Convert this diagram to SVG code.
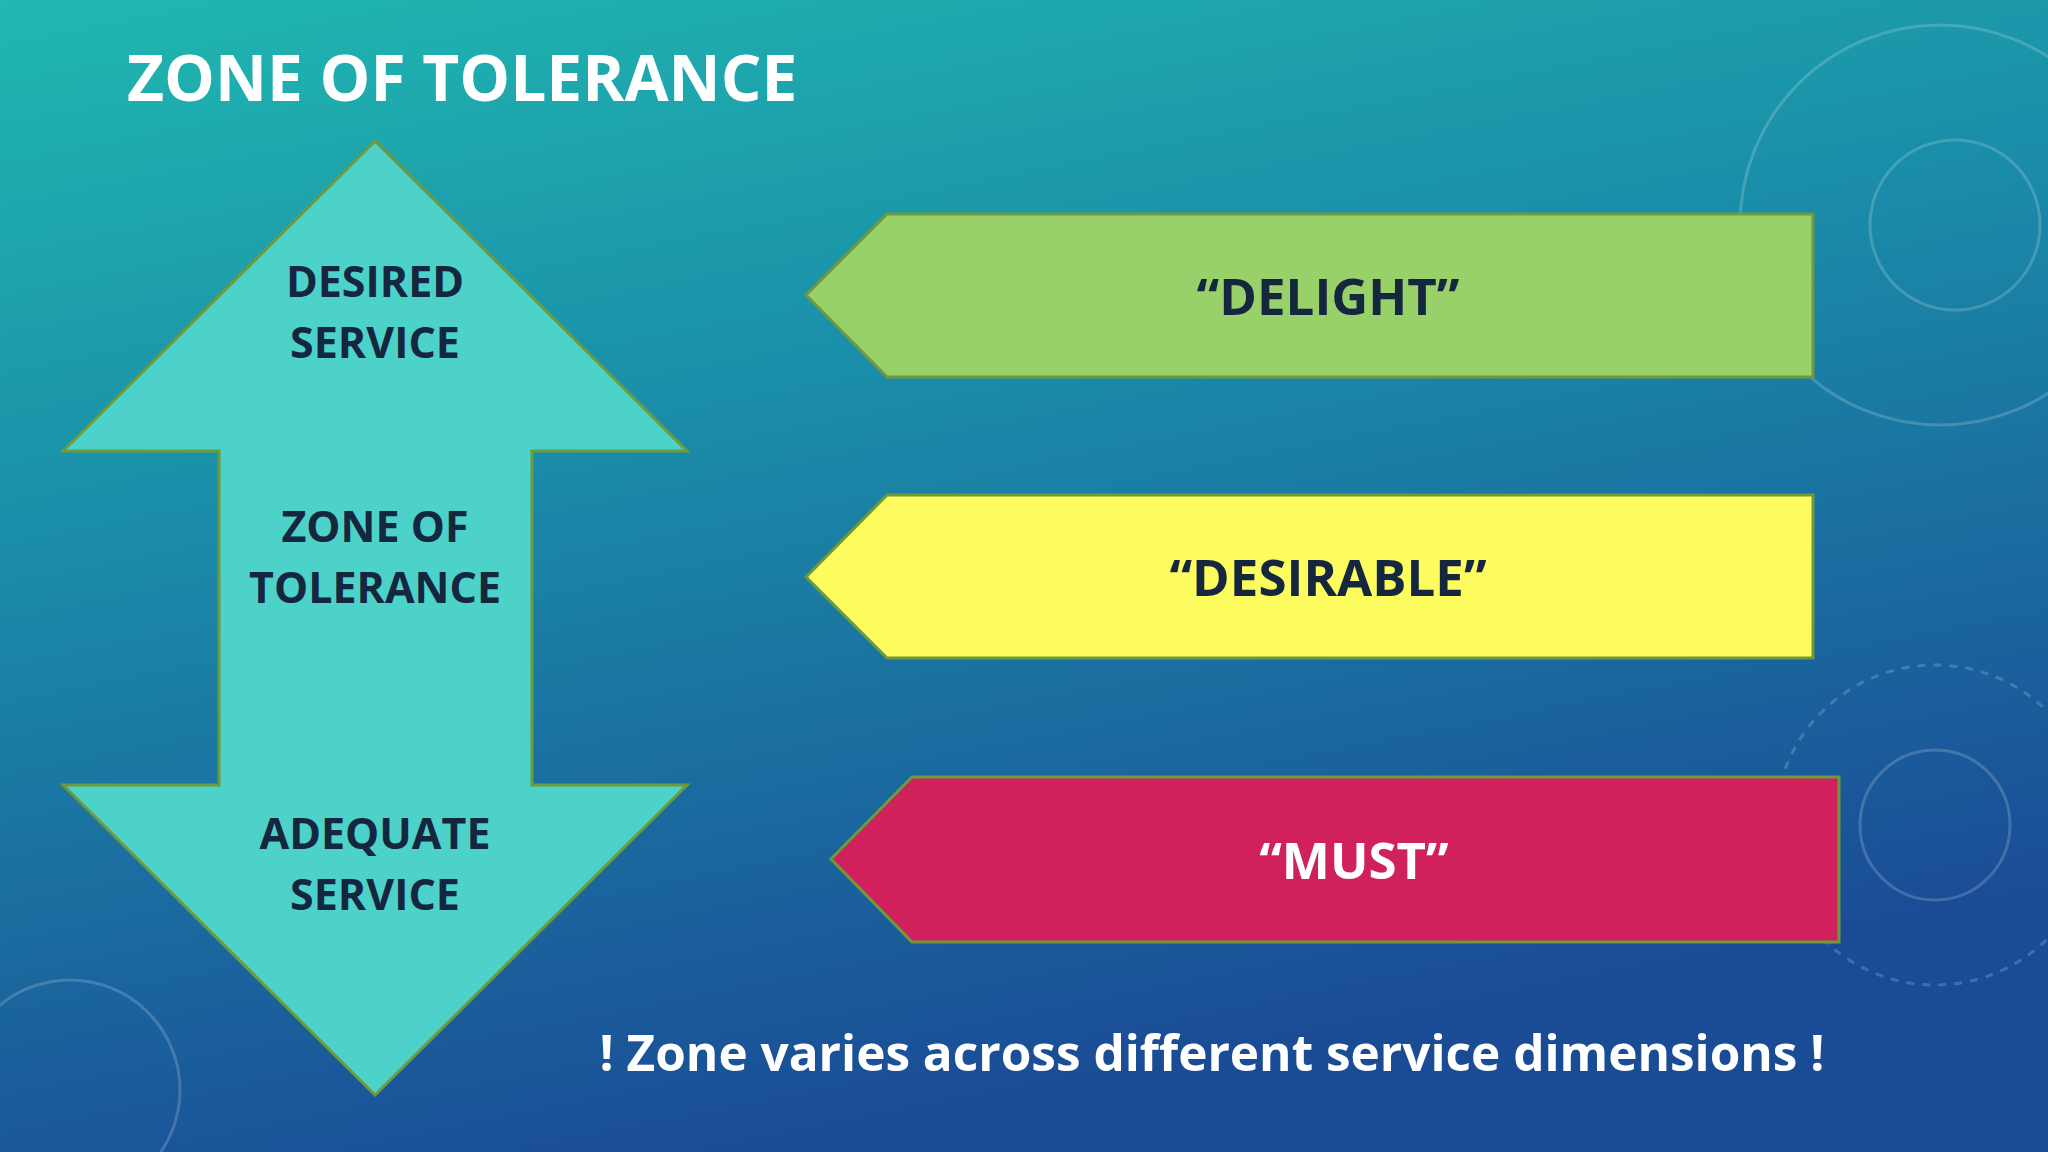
<svg xmlns="http://www.w3.org/2000/svg" width="2048" height="1152" viewBox="0 0 2048 1152">
<defs>
<linearGradient id="bg" x1="0" y1="0" x2="0.35" y2="1">
<stop offset="0" stop-color="#20b8b0"/>
<stop offset="0.45" stop-color="#1a8aa8"/>
<stop offset="1" stop-color="#1a4c96"/>
</linearGradient>
<style>
.t{font-family:"Open Sans","Liberation Sans",sans-serif;font-weight:700;text-anchor:middle}
.dark{fill:#15263f;font-size:43px}
.ban{font-size:51px}
.sh{stroke:#6f9a3c;stroke-width:3}
.deco{fill:none;stroke:#ffffff;stroke-opacity:0.18;stroke-width:3}
</style>
</defs>
<rect width="2048" height="1152" fill="url(#bg)"/>
<g class="deco">
<circle cx="1955" cy="225" r="85"/>
<circle cx="1935" cy="825" r="75"/>
<circle cx="70" cy="1090" r="110"/>
<circle cx="1940" cy="225" r="200"/>
<circle cx="1935" cy="825" r="160" stroke-dasharray="8 8"/>
</g>
<text x="127" y="101" class="t" style="text-anchor:start;font-size:64px;fill:#fff">ZONE OF TOLERANCE</text>
<g id="double-arrow">
<polygon class="sh" fill="#4dd2c9" points="375,141 687,451 532,451 532,785 687,785 375,1095 63,785 219,785 219,451 63,451"/>
<text x="375" y="297" class="t dark">DESIRED</text>
<text x="375" y="358" class="t dark">SERVICE</text>
<text x="375" y="542" class="t dark">ZONE OF</text>
<text x="375" y="603" class="t dark">TOLERANCE</text>
<text x="375" y="849" class="t dark">ADEQUATE</text>
<text x="375" y="910" class="t dark">SERVICE</text>
</g>
<g id="delight">
<polygon class="sh" fill="#98d06a" points="806,295 887,214 1813,214 1813,377 887,377"/>
<text x="1328" y="315" class="t ban" fill="#15263f">“DELIGHT”</text>
</g>
<g id="desirable">
<polygon class="sh" fill="#fcfc5e" points="806,577 887,495 1813,495 1813,658 887,658"/>
<text x="1328" y="596" class="t ban" fill="#15263f">“DESIRABLE”</text>
</g>
<g id="must">
<polygon class="sh" fill="#d0215c" points="831,859 912,777 1839,777 1839,942 912,942"/>
<text x="1354" y="879" class="t ban" fill="#ffffff">“MUST”</text>
</g>
<text x="1212" y="1071" class="t" style="font-size:49.5px;fill:#fff">! Zone varies across different service dimensions !</text>
</svg>
